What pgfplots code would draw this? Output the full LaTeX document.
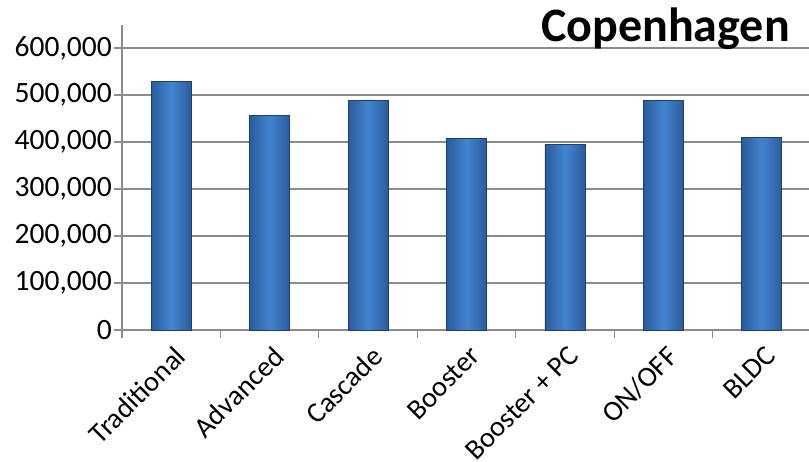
\documentclass[border=0pt]{standalone}
\usepackage{pgfplots}
\pgfplotsset{compat=1.18}
\usepackage{fontspec}
\setmainfont{Carlito}
\definecolor{barmid}{HTML}{4384D0}
\definecolor{baredge}{HTML}{2A5C9C}
\definecolor{barline}{HTML}{1F3F6E}
\definecolor{gridc}{HTML}{8C8C8C}
\pgfplotsset{barsty/.style={draw=barline, line width=0.6bp, left color=baredge, right color=baredge, middle color=barmid}}
\begin{document}
\begin{tikzpicture}
\useasboundingbox (-122bp,-132bp) rectangle (687bp,330bp);
\begin{axis}[
  at={(0,0)}, anchor=south west,
  scale only axis,
  width=687bp, height=305.5bp,
  xmin=-0.5, xmax=6.48,
  ymin=0, ymax=650000,
  axis lines*=left,
  axis line style={gridc, line width=1.2bp},
  ytick={0,100000,...,600000},
  ymajorgrids,
  grid style={gridc, line width=1.2bp},
  xtick={0,...,6},
  xticklabels={Traditional,Advanced,Cascade,Booster,Booster + PC,ON/OFF,BLDC},
  minor xtick={-0.5,0.5,...,6.5},
  major x tick style={draw=none},
  minor x tick style={gridc, line width=1.2bp},
  y tick style={gridc, line width=1.2bp},
  tick align=outside,
  major tick length=8bp,
  minor tick length=8bp,
  x tick label style={rotate=45, anchor=north east, font=\fontsize{28.5bp}{32bp}\selectfont, inner sep=0bp, yshift=-6bp, xshift=-3bp},
  y tick label style={font=\fontsize{29.5bp}{32bp}\selectfont, inner sep=2bp},
  /pgf/number format/assume math mode=true,
  scaled y ticks=false,
  yticklabel={\pgfmathprintnumber[fixed, 1000 sep={,}]{\tick}},
  ybar, bar width=40bp, bar shift=0pt,
  clip=false,
]
\addplot[barsty] coordinates {(0,529000)};
\addplot[barsty] coordinates {(1,456000)};
\addplot[barsty] coordinates {(2,489000)};
\addplot[barsty] coordinates {(3,408000)};
\addplot[barsty] coordinates {(4,395000)};
\addplot[barsty] coordinates {(5,489000)};
\addplot[barsty] coordinates {(6,410000)};
\end{axis}
\node[anchor=base east, font=\fontsize{48bp}{52bp}\selectfont\bfseries, inner sep=0pt] at (668bp,288bp) {Copenhagen};
\end{tikzpicture}
\end{document}
